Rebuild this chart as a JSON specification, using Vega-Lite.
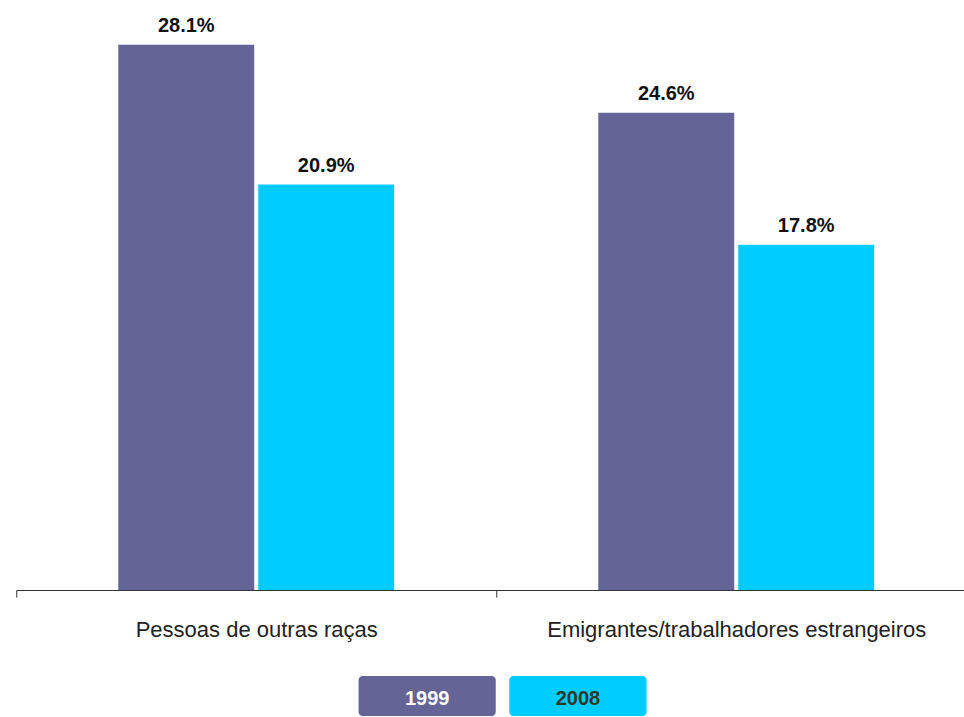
{
  "$schema": "https://vega.github.io/schema/vega-lite/v6.json",
  "padding": {"left": 15, "top": 8, "right": 0, "bottom": 0},
  "background": "white",
  "config": {"view": {"stroke": null}, "font": "Liberation Sans"},
  "spacing": 36,
  "center": true,
  "resolve": {"scale": {"x": "independent", "color": "independent"}},
  "vconcat": [
    {
      "width": 960,
      "height": 582,
      "data": {"values": [
        {"grupo": "Pessoas de outras raças", "ano": "1999", "valor": 0.281},
        {"grupo": "Pessoas de outras raças", "ano": "2008", "valor": 0.209},
        {"grupo": "Emigrantes/trabalhadores estrangeiros", "ano": "1999", "valor": 0.246},
        {"grupo": "Emigrantes/trabalhadores estrangeiros", "ano": "2008", "valor": 0.178}
      ]},
      "encoding": {
        "x": {"field": "grupo", "type": "nominal", "sort": null,
          "scale": {"paddingInner": 0, "paddingOuter": 0},
          "axis": {"title": null, "labelAngle": 0, "tickBand": "extent", "labelFontSize": 22,
            "labelFont": "Liberation Sans", "labelColor": "#222", "labelPadding": 22,
            "domainColor": "#333", "tickColor": "#333", "tickSize": 7, "labelLimit": 0}},
        "xOffset": {"field": "ano", "type": "nominal",
          "scale": {"domain": ["1999", "2008"], "paddingInner": 0.0286, "paddingOuter": 0.729}},
        "y": {"field": "valor", "type": "quantitative", "scale": {"domain": [0, 0.3]}, "axis": null}
      },
      "layer": [
        {"mark": {"type": "bar"},
         "encoding": {"color": {"field": "ano", "type": "nominal",
           "scale": {"domain": ["1999", "2008"], "range": ["#646496", "#00CCFF"]}, "legend": null}}},
        {"mark": {"type": "text", "dy": -13, "baseline": "alphabetic", "fontWeight": "bold",
           "fontSize": 20, "font": "Liberation Sans", "color": "#111"},
         "encoding": {"text": {"field": "valor", "type": "quantitative", "format": ".1%"}}}
      ]
    },
    {
      "width": 300,
      "height": 40,
      "data": {"values": [{"ano": "1999"}, {"ano": "2008"}]},
      "encoding": {
        "x": {"field": "ano", "type": "nominal",
          "scale": {"paddingInner": 0.09, "paddingOuter": 0.04, "align": 1}, "axis": null}
      },
      "layer": [
        {"mark": {"type": "bar", "cornerRadius": 4},
         "encoding": {"color": {"field": "ano", "type": "nominal",
           "scale": {"domain": ["1999", "2008"], "range": ["#646496", "#00CCFF"]}, "legend": null}}},
        {"mark": {"type": "text", "fontWeight": "bold", "fontSize": 20, "font": "Liberation Sans",
           "baseline": "alphabetic", "dy": 9},
         "encoding": {"text": {"field": "ano"},
           "color": {"condition": {"test": "datum.ano === '1999'", "value": "white"}, "value": "#2a3a2a"}}}
      ]
    }
  ]
}
